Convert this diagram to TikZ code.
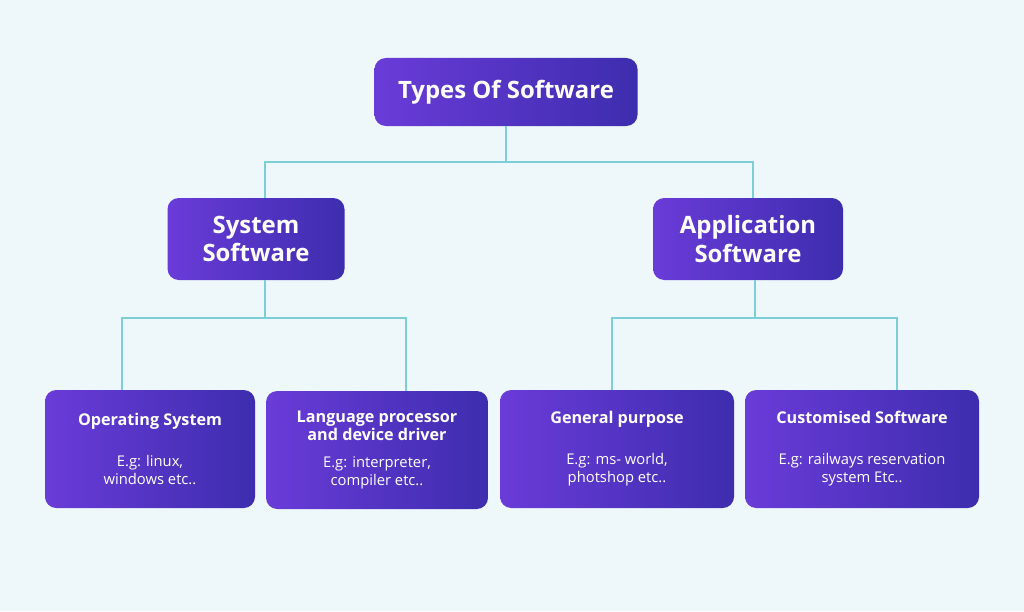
\documentclass[tikz,border=0pt]{standalone}
\usepackage{fontspec}
\setmainfont{Open Sans}
\usepackage{xcolor}
\usetikzlibrary{positioning,calc}
\definecolor{bgpanel}{HTML}{EEF8FB}
\definecolor{boxleft}{HTML}{6A3BD8}
\definecolor{boxright}{HTML}{3D2DAE}
\definecolor{link}{HTML}{7CCFD9}

\begin{document}
\begin{tikzpicture}[
    x=0.025cm, y=-0.025cm,
    box/.style={rounded corners=8pt, left color=boxleft, right color=boxright, text=white, align=center, inner sep=0pt},
    head/.style={box, font=\fontsize{17}{20}\selectfont\bfseries},
    leaf/.style={box, minimum height=118*0.025cm, font=\fontsize{10.5}{13}\selectfont},
    link/.style={draw=link, line width=1.3pt}
]
    \fill[bgpanel] (0,0) rectangle (1024,611);
    \useasboundingbox (0,0) rectangle (1024,611);

    % Levels
    \node[head, minimum width=263*0.025cm, minimum height=68*0.025cm] (types) at (506,92) {Types Of Software};
    \node[head, minimum width=177*0.025cm, minimum height=82*0.025cm] (system) at (256,239) {System\\Software};
    \node[head, minimum width=190*0.025cm, minimum height=82*0.025cm] (application) at (748,239) {Application\\Software};

    % Leaves
    \node[leaf, minimum width=210*0.025cm] (os) at (150,449)
        {\textbf{\fontsize{11.5}{14}\selectfont Operating System}\\[16pt]E.g: linux,\\windows etc..};
    \node[leaf, minimum width=222*0.025cm] (lang) at (377,450)
        {\textbf{\fontsize{11.5}{14}\selectfont Language processor}\\\textbf{\fontsize{11.5}{14}\selectfont and device driver}\\[6pt]E.g: interpreter,\\compiler etc..};
    \node[leaf, minimum width=234*0.025cm] (general) at (617,449)
        {\textbf{\fontsize{11.5}{14}\selectfont General purpose}\\[16pt]E.g: ms- world,\\photshop etc..};
    \node[leaf, minimum width=234*0.025cm] (custom) at (862,449)
        {\textbf{\fontsize{11.5}{14}\selectfont Customised Software}\\[16pt]E.g: railways reservation\\system Etc..};

    % Connectors
    \draw[link] (types.south) -- ++(0,36) coordinate (tj);
    \draw[link] ([xshift=9*0.025cm]system.north) |- (tj) -| ([xshift=5*0.025cm]application.north);
    \draw[link] ([xshift=9*0.025cm]system.south) -- ++(0,38) coordinate (sj);
    \draw[link] ([xshift=-28*0.025cm]os.north) |- (sj) -| ([xshift=29*0.025cm]lang.north);
    \draw[link] ([xshift=7*0.025cm]application.south) -- ++(0,38) coordinate (aj);
    \draw[link] ([xshift=-5*0.025cm]general.north) |- (aj) -| ([xshift=35*0.025cm]custom.north);
\end{tikzpicture}
\end{document}
